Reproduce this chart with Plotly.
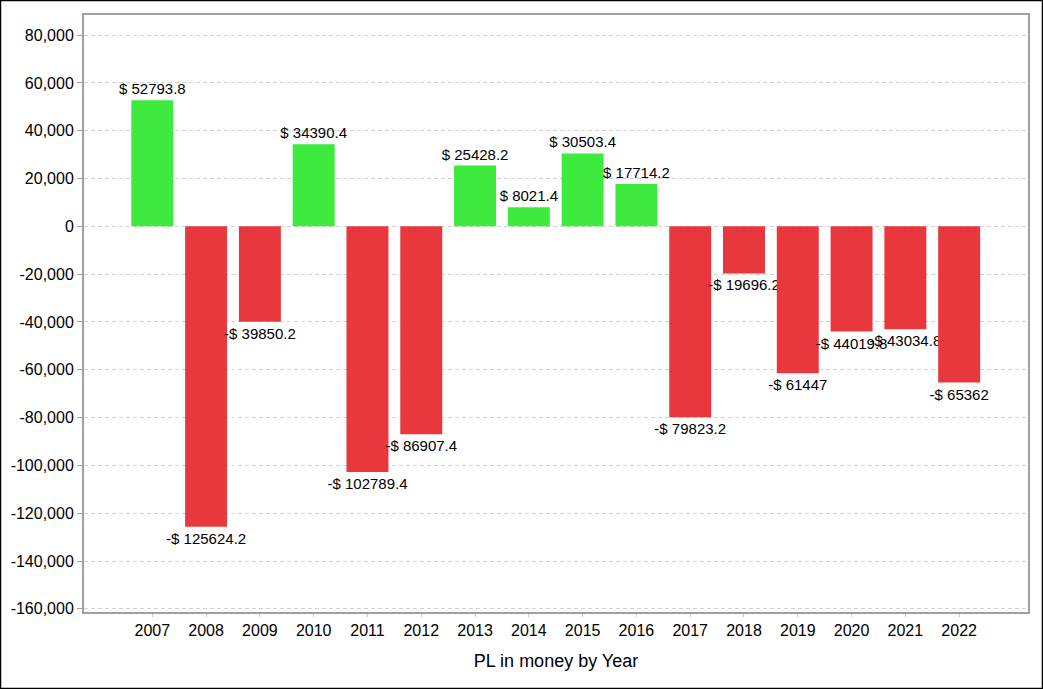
import plotly.graph_objects as go

years = ["2007", "2008", "2009", "2010", "2011", "2012", "2013", "2014",
         "2015", "2016", "2017", "2018", "2019", "2020", "2021", "2022"]
pl_values = [52793.8, -125624.2, -39850.2, 34390.4, -102789.4, -86907.4, 25428.2, 8021.4,
             30503.4, 17714.2, -79823.2, -19696.2, -61447, -44019.8, -43034.8, -65362]
y_ticks = [80000, 60000, 40000, 20000, 0, -20000, -40000, -60000, -80000,
           -100000, -120000, -140000, -160000]

GREEN = "#3DEA3D"
RED = "#E8383D"

def fmt(v):
    s = ("%.1f" % abs(v)).rstrip("0").rstrip(".")
    return ("-$ " if v < 0 else "$ ") + s

colors = [GREEN if v >= 0 else RED for v in pl_values]
labels = [fmt(v) for v in pl_values]

fig = go.Figure(go.Bar(
    x=years, y=pl_values, marker=dict(color=colors, line=dict(width=0)),
    width=0.78, text=labels, textposition="outside", constraintext="none",
    textfont=dict(family="Liberation Sans, Arial", size=15, color="#000"),
    cliponaxis=False, hoverinfo="x+y",
))

fig.update_layout(
    width=1043, height=689,
    margin=dict(l=84, r=15, t=15, b=77),
    paper_bgcolor="white", plot_bgcolor="white",
    font=dict(family="Liberation Sans, Arial", size=16, color="#000"),
    showlegend=False,
    xaxis=dict(
        type="category", range=[-1.27, 16.28],
        showline=True, linecolor="#A0A0A0", linewidth=2, mirror=True,
        ticks="outside", ticklen=3, tickcolor="#C8C8C8",
        showgrid=False, tickfont=dict(size=16),
        title=dict(text="PL in money by Year", font=dict(size=18), standoff=16),
    ),
    yaxis=dict(
        range=[-161300, 88400],
        tickvals=y_ticks, ticktext=[f"{v:,}" for v in y_ticks],
        showline=True, linecolor="#A0A0A0", linewidth=2, mirror=True,
        ticks="outside", ticklen=5, tickcolor="#A0A0A0",
        showgrid=True, gridcolor="#D2D2D2", griddash="4px,3px", gridwidth=1,
        zeroline=False, tickfont=dict(size=16),
    ),
    shapes=[dict(type="rect", xref="paper", yref="paper",
                 x0=-83.5/944, x1=1+14.5/944, y0=-76.5/597, y1=1+14.5/597,
                 line=dict(color="black", width=1.5), layer="below")],
)

fig.write_html("out.html", config={"displayModeBar": False},
               post_script="document.body.style.margin='0';document.body.style.padding='0';")
